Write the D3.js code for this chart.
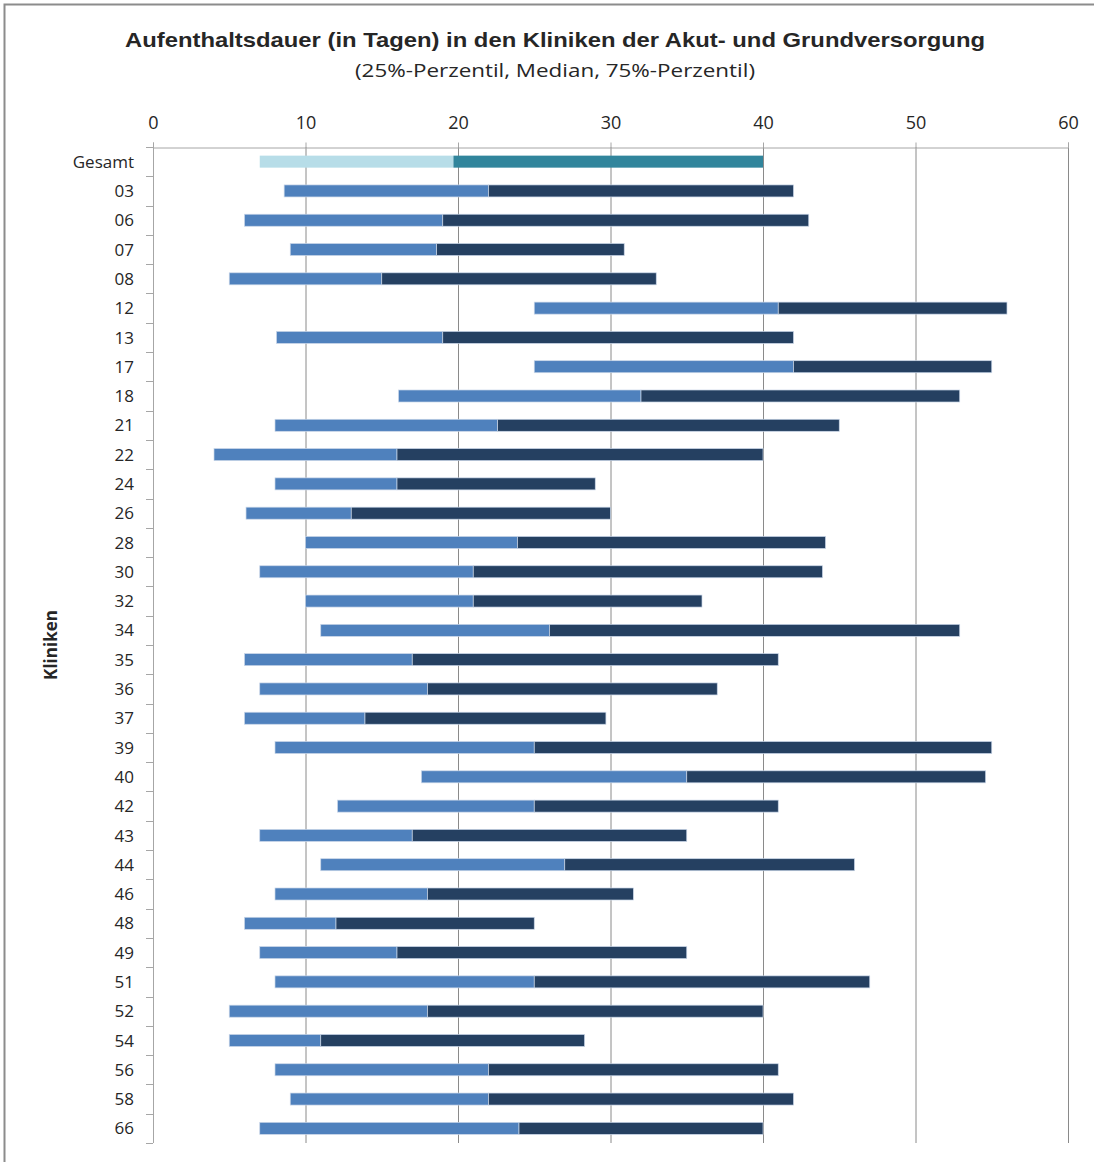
<!DOCTYPE html>
<html>
<head>
<meta charset="utf-8">
<script src="https://cdn.jsdelivr.net/npm/d3@7"></script>
<style>
body { margin: 0; background: #fff; }
text { font-family: "Open Sans", "Liberation Sans", sans-serif; fill: #262626; }
</style>
</head>
<body>
<div id="viz"></div>
<script>
var w = 1094;
var h = 1162;

// data
var kliniken = ["Gesamt", "03", "06", "07", "08", "12", "13", "17", "18", "21", "22", "24", "26", "28", "30", "32",
    "34", "35", "36", "37", "39", "40", "42", "43", "44", "46", "48", "49", "51", "52", "54", "56", "58", "66"];
var p25 = [7, 8.6, 6, 9, 5, 25, 8.1, 25, 16.1, 8, 4, 8, 6.1, 10, 7, 10,
    11, 6, 7, 6, 8, 17.6, 12.1, 7, 11, 8, 6, 7, 8, 5, 5, 8, 9, 7];
var median = [19.7, 22, 19, 18.6, 15, 41, 19, 42, 32, 22.6, 16, 16, 13, 23.9, 21, 21,
    26, 17, 18, 13.9, 25, 35, 25, 17, 27, 18, 12, 16, 25, 18, 11, 22, 22, 24];
var p75 = [40, 42, 43, 30.9, 33, 56, 42, 55, 52.9, 45, 40, 29, 30, 44.1, 43.9, 36,
    52.9, 41, 37, 29.7, 55, 54.6, 41, 35, 46, 31.5, 25, 35, 47, 40, 28.3, 41, 42, 40];
var xTicks = [0, 10, 20, 30, 40, 50, 60];

var plotLeft = 153, plotRight = 1068, plotTop = 147, plotBottom = 1143;

var svg = d3.select("#viz")
    .append("svg")
    .attr("width", w)
    .attr("height", h);

// chart border
svg.append("rect")
    .attr("x", 4.5).attr("y", 4.5)
    .attr("width", w + 10).attr("height", h + 10)
    .attr("fill", "none")
    .attr("stroke", "#8c8c8c")
    .attr("stroke-width", 2);

var x = d3.scaleLinear().domain([0, 60]).range([plotLeft, plotRight]);
var y = d3.scaleBand().domain(kliniken).range([plotTop, plotBottom]).paddingInner(0.59).paddingOuter(0.295);
var band = (plotBottom - plotTop) / kliniken.length;

// title
svg.append("text")
    .attr("x", 555).attr("y", 47)
    .attr("text-anchor", "middle")
    .style("font-family", "'Liberation Sans', sans-serif")
    .style("font-weight", "bold")
    .style("font-size", "21px")
    .attr("textLength", 860)
    .attr("lengthAdjust", "spacingAndGlyphs")
    .text("Aufenthaltsdauer (in Tagen) in den Kliniken der Akut- und Grundversorgung");

svg.append("text")
    .attr("x", 555).attr("y", 77)
    .attr("text-anchor", "middle")
    .style("font-size", "18px")
    .attr("textLength", 400)
    .attr("lengthAdjust", "spacingAndGlyphs")
    .text("(25%-Perzentil, Median, 75%-Perzentil)");

// gridlines
svg.append("g").selectAll("line")
    .data(xTicks.slice(1))
    .enter().append("line")
    .attr("x1", function (d) { return x(d) + 0.5; })
    .attr("x2", function (d) { return x(d) + 0.5; })
    .attr("y1", plotTop)
    .attr("y2", plotBottom)
    .attr("stroke", "#8a8a8a")
    .attr("stroke-width", 1);

// top axis
var xAxis = svg.append("g")
    .attr("transform", "translate(0," + (plotTop + 0.5) + ")")
    .call(d3.axisTop(x).tickValues(xTicks).tickSize(5).tickPadding(14));
xAxis.select(".domain").attr("stroke", "#a6a6a6");
xAxis.selectAll(".tick line").attr("stroke", "#a6a6a6");
xAxis.selectAll("text")
    .style("font-size", "18px")
    .style("font-family", "'Open Sans', sans-serif")
    .attr("fill", "#262626");

// left axis: line with ticks between categories
svg.append("line")
    .attr("x1", plotLeft + 0.5).attr("x2", plotLeft + 0.5)
    .attr("y1", plotTop).attr("y2", plotBottom)
    .attr("stroke", "#a6a6a6");
svg.append("g").selectAll("line")
    .data(d3.range(kliniken.length + 1))
    .enter().append("line")
    .attr("x1", plotLeft - 7).attr("x2", plotLeft)
    .attr("y1", function (d) { return Math.round(plotTop + d * band) + 0.5; })
    .attr("y2", function (d) { return Math.round(plotTop + d * band) + 0.5; })
    .attr("stroke", "#a6a6a6");

svg.append("g").selectAll("text")
    .data(kliniken)
    .enter().append("text")
    .attr("x", 134)
    .attr("y", function (d) { return y(d) + y.bandwidth() / 2; })
    .attr("dy", "0.36em")
    .attr("text-anchor", "end")
    .style("font-size", "17px")
    .text(function (d) { return d; });

// y title
svg.append("text")
    .attr("transform", "translate(57,645) rotate(-90)")
    .attr("text-anchor", "middle")
    .style("font-weight", "bold")
    .style("font-size", "17px")
    .attr("fill", "#000")
    .text("Kliniken");

// bars: p25 -> median (light), median -> p75 (dark)
var rows = kliniken.map(function (k, i) {
    return { name: k, p25: p25[i], med: median[i], p75: p75[i] };
});

var bars = svg.append("g").selectAll("g")
    .data(rows)
    .enter().append("g");

bars.append("rect")
    .attr("x", function (d) { return x(d.p25); })
    .attr("y", function (d) { return y(d.name); })
    .attr("width", function (d) { return x(d.med) - x(d.p25); })
    .attr("height", y.bandwidth())
    .attr("fill", function (d) { return d.name == "Gesamt" ? "#b7dde8" : "#4f81bd"; })
    .attr("stroke", function (d) { return d.name == "Gesamt" ? "none" : "#c9d6e8"; })
    .attr("stroke-width", 0.7);

bars.append("rect")
    .attr("x", function (d) { return x(d.med); })
    .attr("y", function (d) { return y(d.name); })
    .attr("width", function (d) { return x(d.p75) - x(d.med); })
    .attr("height", y.bandwidth())
    .attr("fill", function (d) { return d.name == "Gesamt" ? "#31859c" : "#254061"; })
    .attr("stroke", function (d) { return d.name == "Gesamt" ? "none" : "#c9d6e8"; })
    .attr("stroke-width", 0.7);
</script>
</body>
</html>
